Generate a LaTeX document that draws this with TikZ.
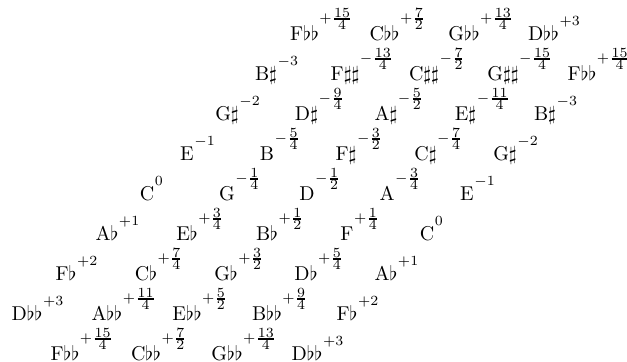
\documentclass[tikz,border=0pt]{standalone}
\usepackage{amsmath}
\DeclareMathSizes{10}{10}{7}{7}
\tikzset{note/.style={anchor=base, inner sep=0pt, outer sep=0pt}}
\newcommand{\nt}[2]{$\mathrm{#1}$\rlap{\kern0.3pt\raisebox{7.6pt}{$\scriptstyle #2$}}}
\newcommand{\nf}[4]{$\mathrm{#1}$\rlap{\kern0.3pt\raisebox{9pt}{$\scriptstyle #2\genfrac{}{}{0.6pt}{}{#3}{#4}$}}}
\begin{document}
\begin{tikzpicture}[x=0.5pt,y=-0.5pt]
\useasboundingbox (0,0) rectangle (627,362);
% row 1
\node[note] (r1c1) at (304.5,40.5) {\nf{F\flat\flat}{+}{15}{4}};
\node[note] (r1c2) at (384.5,40.5) {\nf{C\flat\flat}{+}{7}{2}};
\node[note] (r1c3) at (464,40.5) {\nf{G\flat\flat}{+}{13}{4}};
\node[note] (r1c4) at (543.5,40.5) {\nt{D\flat\flat}{+3}};
% row 2
\node[note] (r2c1) at (266,80.5) {\nt{B\sharp}{-3}};
\node[note] (r2c2) at (345,80.5) {\nf{F\sharp\sharp}{-}{13}{4}};
\node[note] (r2c3) at (424,80.5) {\nf{C\sharp\sharp}{-}{7}{2}};
\node[note] (r2c4) at (503,80.5) {\nf{G\sharp\sharp}{-}{15}{4}};
\node[note] (r2c5) at (582,80.5) {\nf{F\flat\flat}{+}{15}{4}};
% row 3
\node[note] (r3c1) at (227,120.5) {\nt{G\sharp}{-2}};
\node[note] (r3c2) at (306.5,120.5) {\nf{D\sharp}{-}{9}{4}};
\node[note] (r3c3) at (386,120.5) {\nf{A\sharp}{-}{5}{2}};
\node[note] (r3c4) at (465.5,120.5) {\nf{E\sharp}{-}{11}{4}};
\node[note] (r3c5) at (545,120.5) {\nt{B\sharp}{-3}};
% row 4
\node[note] (r4c1) at (187,160.5) {\nt{E}{-1}};
\node[note] (r4c2) at (267,160.5) {\nf{B}{-}{5}{4}};
\node[note] (r4c3) at (346,160.5) {\nf{F\sharp}{-}{3}{2}};
\node[note] (r4c4) at (425.5,160.5) {\nf{C\sharp}{-}{7}{4}};
\node[note] (r4c5) at (505,160.5) {\nt{G\sharp}{-2}};
% row 5
\node[note] (r5c1) at (147,200.5) {\nt{C}{0}};
\node[note] (r5c2) at (227,200.5) {\nf{G}{-}{1}{4}};
\node[note] (r5c3) at (307,200.5) {\nf{D}{-}{1}{2}};
\node[note] (r5c4) at (387,200.5) {\nf{A}{-}{3}{4}};
\node[note] (r5c5) at (467,200.5) {\nt{E}{-1}};
% row 6
\node[note] (r6c1) at (107,240.5) {\nt{A\flat}{+1}};
\node[note] (r6c2) at (187,240.5) {\nf{E\flat}{+}{3}{4}};
\node[note] (r6c3) at (267,240.5) {\nf{B\flat}{+}{1}{2}};
\node[note] (r6c4) at (347,240.5) {\nf{F}{+}{1}{4}};
\node[note] (r6c5) at (427,240.5) {\nt{C}{0}};
% row 7
\node[note] (r7c1) at (66,280.5) {\nt{F\flat}{+2}};
\node[note] (r7c2) at (146,280.5) {\nf{C\flat}{+}{7}{4}};
\node[note] (r7c3) at (226,280.5) {\nf{G\flat}{+}{3}{2}};
\node[note] (r7c4) at (306,280.5) {\nf{D\flat}{+}{5}{4}};
\node[note] (r7c5) at (386,280.5) {\nt{A\flat}{+1}};
% row 8
\node[note] (r8c1) at (27,320.5) {\nt{D\flat\flat}{+3}};
\node[note] (r8c2) at (107,320.5) {\nf{A\flat\flat}{+}{11}{4}};
\node[note] (r8c3) at (187,320.5) {\nf{E\flat\flat}{+}{5}{2}};
\node[note] (r8c4) at (267,320.5) {\nf{B\flat\flat}{+}{9}{4}};
\node[note] (r8c5) at (347,320.5) {\nt{F\flat}{+2}};
% row 9
\node[note] (r9c1) at (65,360.5) {\nf{F\flat\flat}{+}{15}{4}};
\node[note] (r9c2) at (146,360.5) {\nf{C\flat\flat}{+}{7}{2}};
\node[note] (r9c3) at (227,360.5) {\nf{G\flat\flat}{+}{13}{4}};
\node[note] (r9c4) at (307,360.5) {\nt{D\flat\flat}{+3}};
\end{tikzpicture}
\end{document}
